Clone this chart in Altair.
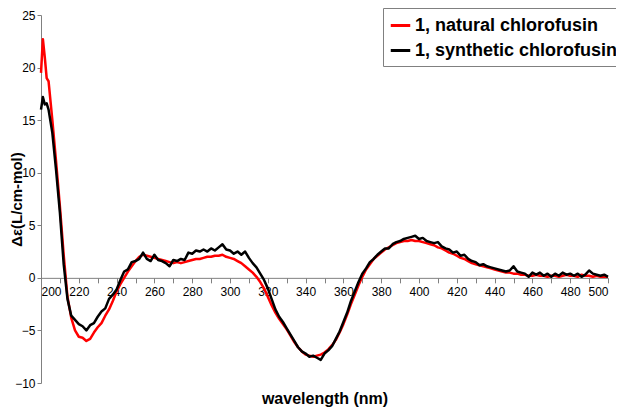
import altair as alt
import pandas as pd

# ---- data ----
wavelength = [
    200, 201, 202, 203, 204, 206, 208, 210, 212, 214,
    216, 218, 220, 222, 224, 226, 228, 230, 232, 234,
    236, 238, 240, 242, 244, 246, 248, 250, 252, 254,
    256, 258, 260, 262, 264, 266, 268, 270, 272, 274,
    276, 278, 280, 282, 284, 286, 288, 290, 292, 294,
    296, 298, 300, 302, 304, 306, 308, 310, 312, 314,
    316, 318, 320, 322, 324, 326, 328, 330, 332, 334,
    336, 338, 340, 342, 344, 346, 348, 350, 352, 354,
    356, 358, 360, 362, 364, 366, 368, 370, 372, 374,
    376, 378, 380, 382, 384, 386, 388, 390, 392, 394,
    396, 398, 400, 402, 404, 406, 408, 410, 412, 414,
    416, 418, 420, 422, 424, 426, 428, 430, 432, 434,
    436, 438, 440, 442, 444, 446, 448, 450, 452, 454,
    456, 458, 460, 462, 464, 466, 468, 470, 472, 474,
    476, 478, 480, 482, 484, 486, 488, 490, 492, 494,
    496, 498, 500,
]

natural = [
    19.5, 22.7, 21.0, 19.0, 18.7, 15.0, 11.0, 6.8, 2.2, -1.8,
    -3.8, -5.0, -5.6, -5.7, -6.0, -5.8, -5.2, -4.7, -4.3, -3.6,
    -3.0, -2.2, -1.3, -0.6, 0.0, 0.6, 1.1, 1.6, 2.0, 2.2,
    2.1, 2.0, 1.9, 1.8, 1.7, 1.6, 1.5, 1.4, 1.5, 1.4,
    1.5, 1.6, 1.7, 1.8, 1.8, 1.9, 2.0, 2.0, 2.1, 2.1,
    2.2, 2.0, 1.9, 1.8, 1.6, 1.4, 1.1, 0.8, 0.5, 0.1,
    -0.4, -1.0, -1.8, -2.6, -3.3, -3.9, -4.4, -4.9, -5.5, -6.1,
    -6.6, -7.0, -7.3, -7.4, -7.5, -7.4, -7.3, -7.1, -6.8, -6.4,
    -5.9, -5.2, -4.4, -3.5, -2.5, -1.6, -0.7, 0.1, 0.8, 1.3,
    1.8, 2.1, 2.4, 2.7, 2.9, 3.1, 3.3, 3.4, 3.5, 3.5,
    3.6, 3.5, 3.5, 3.4, 3.3, 3.2, 3.1, 2.9, 2.8, 2.6,
    2.4, 2.3, 2.1, 1.9, 1.8, 1.6, 1.4, 1.3, 1.2, 1.1,
    1.0, 0.9, 0.8, 0.7, 0.6, 0.5, 0.5, 0.4, 0.4, 0.3,
    0.3, 0.2, 0.2, 0.3, 0.2, 0.2, 0.1, 0.2, 0.2, 0.1,
    0.2, 0.3, 0.2, 0.2, 0.1, 0.3, 0.2, 0.2, 0.1, 0.2,
    0.1, 0.1, 0.1,
]

synthetic = [
    16.0, 17.2, 16.5, 16.6, 16.0, 13.8, 10.2, 6.2, 1.3, -2.0,
    -3.6, -4.0, -4.4, -4.6, -5.0, -4.5, -4.3, -3.7, -3.2, -2.9,
    -2.0, -1.6, -1.1, -0.2, 0.6, 0.8, 1.5, 1.6, 1.8, 2.4,
    1.8, 1.6, 2.2, 1.7, 1.6, 1.4, 1.1, 1.7, 1.6, 1.8,
    1.7, 2.4, 2.3, 2.6, 2.5, 2.7, 2.5, 2.8, 2.6, 2.9,
    3.2, 2.7, 2.6, 2.3, 2.5, 2.2, 2.5, 1.9, 1.4, 1.0,
    0.4, -0.2, -1.0, -2.0, -3.0, -3.7, -4.2, -4.8, -5.4, -6.0,
    -6.6, -7.0, -7.2, -7.5, -7.4, -7.6, -7.8, -7.2, -6.9, -6.5,
    -5.8, -5.1, -4.2, -3.3, -2.2, -1.3, -0.4, 0.4, 0.9, 1.5,
    1.8, 2.2, 2.5, 2.8, 2.8, 3.2, 3.4, 3.5, 3.7, 3.8,
    3.9, 4.0, 3.7, 3.8, 3.5, 3.4, 3.3, 3.4, 3.0, 2.8,
    2.7, 2.4, 2.5, 2.1, 2.2, 1.8, 1.6, 1.5, 1.2, 1.3,
    1.1, 1.0, 0.9, 0.8, 0.7, 0.6, 0.7, 1.1, 0.6, 0.5,
    0.4, 0.1, 0.5, 0.3, 0.5, 0.2, 0.4, 0.1, 0.4, 0.2,
    0.5, 0.3, 0.4, 0.2, 0.4, 0.1, 0.3, 0.7, 0.4, 0.3,
    0.2, 0.3, 0.1,
]

series_names = ["1, natural chlorofusin", "1, synthetic chlorofusin"]
series_colors = ["#ff0000", "#000000"]
x_ticks = [200, 210, 220, 230, 240, 250, 260, 270, 280, 290, 300, 310, 320,
           330, 340, 350, 360, 370, 380, 390, 400, 410, 420, 430, 440, 450,
           460, 470, 480, 490, 500]
y_ticks = [-10, -5, 0, 5, 10, 15, 20, 25]

rows = []
for order_i, (name, vals) in enumerate(zip(series_names, [natural, synthetic])):
    for w, v in zip(wavelength, vals):
        rows.append({"wl": w, "de": v, "series": name, "k": order_i})
df = pd.DataFrame(rows)

TOP = 7
LEFT = 33
PLOT_W = 616 - LEFT - 8 - 8
PLOT_H = 383 - 8 - TOP
zero_from_top = PLOT_H * 25.0 / 35.0
x_axis_offset = -(PLOT_H - zero_from_top)
# x title baseline around page y 403
x_title_y = (403 - 8 - TOP) - zero_from_top

FONT = "Liberation Sans"

chart = alt.Chart(df).mark_line(strokeWidth=2.5, strokeJoin="round").encode(
    x=alt.X(
        "wl:Q",
        scale=alt.Scale(domain=[200, 500], nice=False, zero=False),
        axis=alt.Axis(
            values=x_ticks,
            labelExpr="datum.value % 20 == 0 ? datum.label : ''",
            labelOverlap=False,
            offset=x_axis_offset,
            grid=False,
            title="wavelength (nm)",
            titleY=x_title_y,
            titleBaseline="alphabetic",
            tickSize=5,
            labelPadding=4,
        ),
    ),
    y=alt.Y(
        "de:Q",
        scale=alt.Scale(domain=[-10, 25], nice=False, zero=False),
        axis=alt.Axis(
            values=y_ticks,
            grid=False,
            title="Δε(L/cm-mol)",
            titleFontSize=15,
            titleAngle=270,
            titleX=21 - 8 - LEFT,
            titleY=PLOT_H / 2,
            titleAlign="center",
            titleBaseline="alphabetic",
            tickSize=4,
            labelPadding=2,
        ),
    ),
    color=alt.Color(
        "series:N",
        scale=alt.Scale(domain=series_names, range=series_colors),
        legend=alt.Legend(
            title=None,
            orient="none",
            legendX=383 - 8 - LEFT,
            legendY=-TOP,
            symbolType="stroke",
            symbolStrokeWidth=3,
            symbolSize=380,
            labelFont=FONT,
            labelFontSize=18,
            labelFontWeight="bold",
            labelColor="#000000",
            labelLimit=400,
            strokeColor="#808080",
            fillColor="#ffffff",
            padding=6,
            rowPadding=4,
            labelOffset=3,
            cornerRadius=0,
        ),
    ),
    order=alt.Order("k:Q"),
).properties(
    width=PLOT_W,
    height=PLOT_H,
    autosize=alt.AutoSizeParams(type="none"),
    padding={"left": LEFT, "top": TOP, "right": 8, "bottom": 402 - TOP - PLOT_H},
).configure(
    background="#ffffff"
).configure_view(
    stroke=None
).configure_axis(
    grid=False,
    domainColor="#808080",
    tickColor="#808080",
    labelColor="#000000",
    labelFont=FONT,
    labelFontSize=12,
    titleFont=FONT,
    titleFontSize=16,
    titleFontWeight="bold",
    titleColor="#000000",
)

chart.save("out.html", embed_options={"renderer": "svg", "actions": False})
